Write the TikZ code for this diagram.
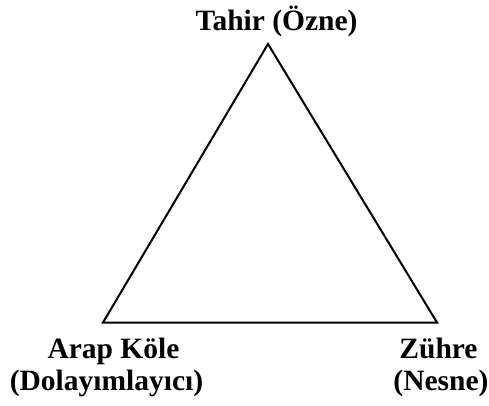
\documentclass[tikz,border=0pt]{standalone}
\usepackage{fontspec}
\setmainfont{Liberation Serif}
\begin{document}
\begin{tikzpicture}[x=1pt,y=-1pt,
  lbl/.style={font=\bfseries\fontsize{29.5}{33}\selectfont, inner sep=0pt, anchor=base}]
\useasboundingbox (0,0) rectangle (489,405);
\coordinate (T) at (268,44);
\coordinate (L) at (103,322.5);
\coordinate (R) at (437,322.5);
\draw[line width=2pt, line join=miter] (T) -- (L) -- (R) -- cycle;
\node[lbl] (top) at (276.5,30) {Tahir (Özne)};
\node[lbl] (left1) at (113.5,358) {Arap Köle};
\node[lbl] (left2) at (106.5,390) {(Dolayımlayıcı)};
\node[lbl] (right1) at (438.5,358) {Zühre};
\node[lbl] (right2) at (441,390) {(Nesne)};
\end{tikzpicture}
\end{document}
